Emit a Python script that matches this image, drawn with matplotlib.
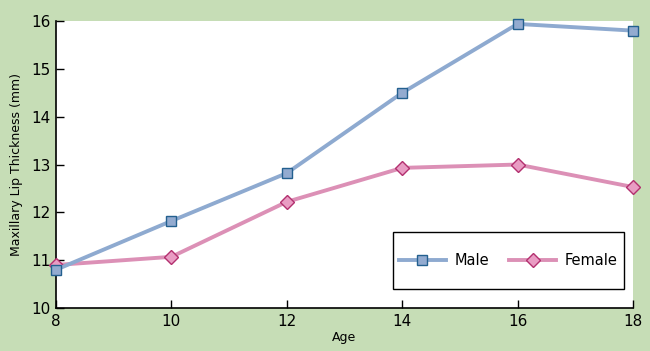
import matplotlib

matplotlib.use("Agg")
import matplotlib.pyplot as plt
from matplotlib.patches import Rectangle

AGES = [8, 10, 12, 14, 16, 18]
MALE = [10.8, 11.82, 12.82, 14.5, 15.94, 15.8]
FEMALE = [10.9, 11.07, 12.22, 12.93, 13.0, 12.53]

BG = "#c6ddb6"


def main():
    fig = plt.figure(figsize=(6.5, 3.51), dpi=100, facecolor=BG)
    ax = fig.add_axes([0.0862, 0.1225, 0.8876, 0.8175])
    ax.set_facecolor("white")

    ax.plot(AGES, FEMALE, color="#dc90b6", lw=2.8, marker="D", ms=7.5,
            mfc="#e99cc3", mec="#b3306f", mew=1.0, label="Female", zorder=3,
            clip_on=False)
    ax.plot(AGES, MALE, color="#8eaad0", lw=2.8, marker="s", ms=7.5,
            mfc="#93abd0", mec="#23608f", mew=1.0, label="Male", zorder=4,
            clip_on=False)

    ax.set_xlim(8, 18)
    ax.set_ylim(10, 16)
    ax.set_xticks(AGES)
    ax.set_yticks(range(10, 17))
    ax.tick_params(direction="in", length=6, width=1, labelsize=11, pad=4)
    ax.spines["top"].set_visible(False)
    ax.spines["right"].set_visible(False)
    for side in ("left", "bottom"):
        ax.spines[side].set_linewidth(1.2)
    ax.set_xlabel("Age", fontsize=9, labelpad=2)
    ax.set_ylabel("Maxillary Lip Thickness (mm)", fontsize=9, labelpad=6)

    # legend box drawn by hand so it can be taller than the entries need
    box = Rectangle((0.584, 0.066), 0.400, 0.199, transform=ax.transAxes,
                    facecolor="white", edgecolor="black", lw=1.0, zorder=5)
    ax.add_patch(box)

    handles, labels = ax.get_legend_handles_labels()
    leg = ax.legend(handles[::-1], labels[::-1], loc="center",
                    bbox_to_anchor=(0.784, 0.1655), borderaxespad=0, ncol=2,
                    fontsize=10.5, frameon=False, handlelength=3.2,
                    borderpad=0, columnspacing=1.4, handletextpad=0.6)
    leg.set_zorder(6)

    fig.savefig("out.png", dpi=100, facecolor=BG)
    plt.close(fig)


if __name__ == "__main__":
    main()
